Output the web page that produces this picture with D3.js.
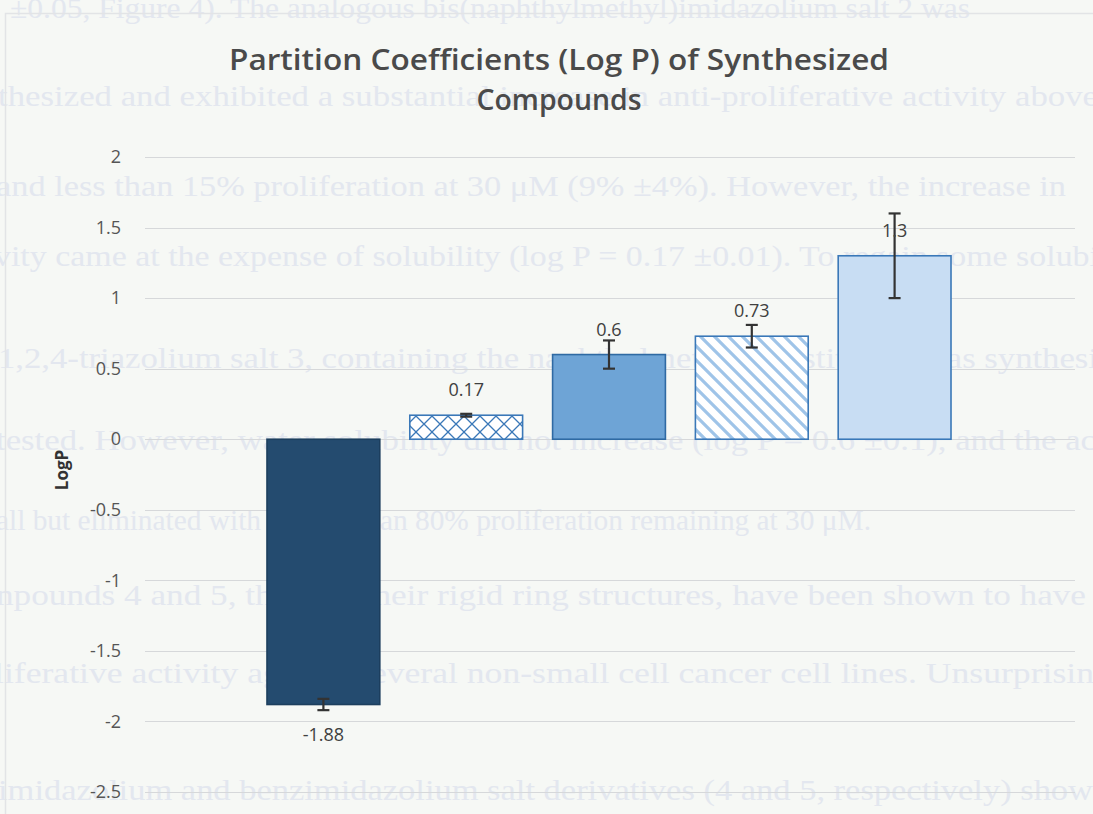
<!DOCTYPE html>
<html>
<head>
<meta charset="utf-8">
<script src="https://cdn.jsdelivr.net/npm/d3@7"></script>
<style>
  html, body { margin: 0; padding: 0; background: #f6f8f5; }
  svg { display: block; }
</style>
</head>
<body>
<div id="chart"></div>
<script>
// ---- data ----
const categories = ["1", "2", "3", "4", "5"];
const logP = [-1.88, 0.17, 0.6, 0.73, 1.3];
const errors = [0.04, 0.01, 0.1, 0.08, 0.3];
const valueLabels = ["-1.88", "0.17", "0.6", "0.73", "1.3"];
const yTicks = [2, 1.5, 1, 0.5, 0, -0.5, -1, -1.5, -2, -2.5];
const titleLines = ["Partition Coefficients (Log P) of Synthesized", "Compounds"];
const yAxisTitle = "LogP";
// faint show-through text visible in the scanned reference
const showThrough = [
  "±0.05, Figure 4). The analogous bis(naphthylmethyl)imidazolium salt 2 was",
  "thesized and exhibited a substantial increase in anti-proliferative activity above",
  "and less than 15% proliferation at 30 μM (9% ±4%). However, the increase in",
  "vity came at the expense of solubility (log P = 0.17 ±0.01). To regain some solubi",
  "1,2,4-triazolium salt 3, containing the naphthylmethyl substituent, was synthesi",
  "tested. However, water solubility did not increase (log P = 0.6 ±0.1), and the ac",
  "all but eliminated with greater than 80% proliferation remaining at 30 μM.",
  "npounds 4 and 5, through their rigid ring structures, have been shown to have",
  "liferative activity against several non-small cell cancer cell lines. Unsurprisin",
  "imidazolium and benzimidazolium salt derivatives (4 and 5, respectively) show"
];

const W = 1093, H = 814;
const svg = d3.select("#chart").append("svg").attr("width", W).attr("height", H);

// background
svg.append("rect").attr("width", W).attr("height", H).attr("fill", "#f6f8f5");

// show-through layer (very faint, as in the scan)
const stY = [18, 106, 196, 266, 368, 450, 530, 605, 683, 800];
const stX = [10, -2, -4, -6, -2, -4, -4, -4, -6, -2];
const stW = [960, 1100, 1070, 1105, 1100, 1100, 875, 1090, 1100, 1095];
svg.append("g").selectAll("text").data(showThrough).join("text")
  .attr("x", (d, i) => stX[i]).attr("y", (d, i) => stY[i])
  .attr("textLength", (d, i) => stW[i]).attr("lengthAdjust", "spacingAndGlyphs")
  .attr("font-family", "Liberation Serif, serif").attr("font-size", 30)
  .attr("fill", "#e3e7ef")
  .text(d => d);

// faint chart border
svg.append("path").attr("d", "M5.5,820 V13.5 H1093").attr("fill", "none")
  .attr("stroke", "#e2e4e6").attr("stroke-width", 1.5);

// scales
const x = d3.scaleBand().domain(categories).range([252, 966]).paddingInner(0.21).paddingOuter(0.105);
const y = d3.scaleLinear().domain([-2.5, 2]).range([792, 157]);

// patterns
const defs = svg.append("defs");
const cross = defs.append("pattern").attr("id", "cross").attr("patternUnits", "userSpaceOnUse")
  .attr("width", 16).attr("height", 16);
cross.append("rect").attr("width", 16).attr("height", 16).attr("fill", "#ffffff");
cross.append("path").attr("d", "M0,0 L16,16 M16,0 L0,16").attr("stroke", "#3a78b8").attr("stroke-width", 1.3);
const diag = defs.append("pattern").attr("id", "diag").attr("patternUnits", "userSpaceOnUse")
  .attr("width", 14).attr("height", 14);
diag.append("rect").attr("width", 14).attr("height", 14).attr("fill", "#ffffff");
diag.append("path").attr("d", "M-4,-4 L18,18 M-4,10 L4,18 M10,-4 L18,4").attr("stroke", "#9fc4e8").attr("stroke-width", 3.2);

// gridlines
svg.append("g").selectAll("line").data(yTicks).join("line")
  .attr("x1", 145).attr("x2", 1075)
  .attr("y1", d => Math.round(y(d)) + 0.5).attr("y2", d => Math.round(y(d)) + 0.5)
  .attr("stroke", "#d6d8da").attr("stroke-width", 1.2);

// y axis tick labels via d3 axis
const yAxis = d3.axisLeft(y).tickValues(yTicks).tickSize(0).tickPadding(0)
  .tickFormat(d => d3.format("")(d).replace("−", "-"));
const ga = svg.append("g").attr("transform", "translate(121,0)").call(yAxis);
ga.select(".domain").remove();
ga.selectAll("text").attr("font-family", "Open Sans, sans-serif").attr("font-size", 18)
  .attr("fill", "#555555");

// y axis title
svg.append("text").attr("transform", "translate(68,470) rotate(-90)")
  .attr("text-anchor", "middle").attr("font-family", "Open Sans, sans-serif")
  .attr("font-weight", "bold").attr("font-size", 17).attr("fill", "#333333").text(yAxisTitle);

// bars
const fills = ["#244b6f", "url(#cross)", "#6ea4d6", "url(#diag)", "#c8ddf3"];
const strokes = ["#1d3f5e", "#3a78b8", "#2f6aa3", "#3a78b8", "#3a78b8"];
const data = categories.map((c, i) => ({ c, v: logP[i], e: errors[i], lab: valueLabels[i], i }));

svg.append("g").selectAll("rect").data(data).join("rect")
  .attr("x", d => x(d.c)).attr("width", x.bandwidth())
  .attr("y", d => y(Math.max(0, d.v))).attr("height", d => Math.abs(y(d.v) - y(0)))
  .attr("fill", d => fills[d.i]).attr("stroke", d => strokes[d.i]).attr("stroke-width", 1.6);

// error bars
const eb = svg.append("g").attr("stroke", "#333333").attr("stroke-width", 2.2);
data.forEach(d => {
  const cx = x(d.c) + x.bandwidth() / 2;
  const y1 = y(d.v + d.e), y2 = y(d.v - d.e);
  eb.append("line").attr("x1", cx).attr("x2", cx).attr("y1", y1).attr("y2", y2);
  eb.append("line").attr("x1", cx - 6).attr("x2", cx + 6).attr("y1", y1).attr("y2", y1);
  eb.append("line").attr("x1", cx - 6).attr("x2", cx + 6).attr("y1", y2).attr("y2", y2);
});

// value labels
svg.append("g").selectAll("text").data(data).join("text")
  .attr("x", d => x(d.c) + x.bandwidth() / 2)
  .attr("y", d => d.v >= 0 ? y(d.v) - 19 : y(d.v) + 36)
  .attr("text-anchor", "middle").attr("font-family", "Open Sans, sans-serif")
  .attr("font-size", 18).attr("fill", "#404040").text(d => d.lab);

// title
const titleW = [660, 165];
svg.append("g").selectAll("text").data(titleLines).join("text")
  .attr("x", 559).attr("y", (d, i) => 70 + i * 40)
  .attr("text-anchor", "middle").attr("font-family", "Open Sans, sans-serif")
  .attr("font-weight", "600").attr("font-size", 29).attr("fill", "#4a4a4a")
  .attr("textLength", (d, i) => titleW[i]).attr("lengthAdjust", "spacingAndGlyphs")
  .text(d => d);
</script>
</body>
</html>
